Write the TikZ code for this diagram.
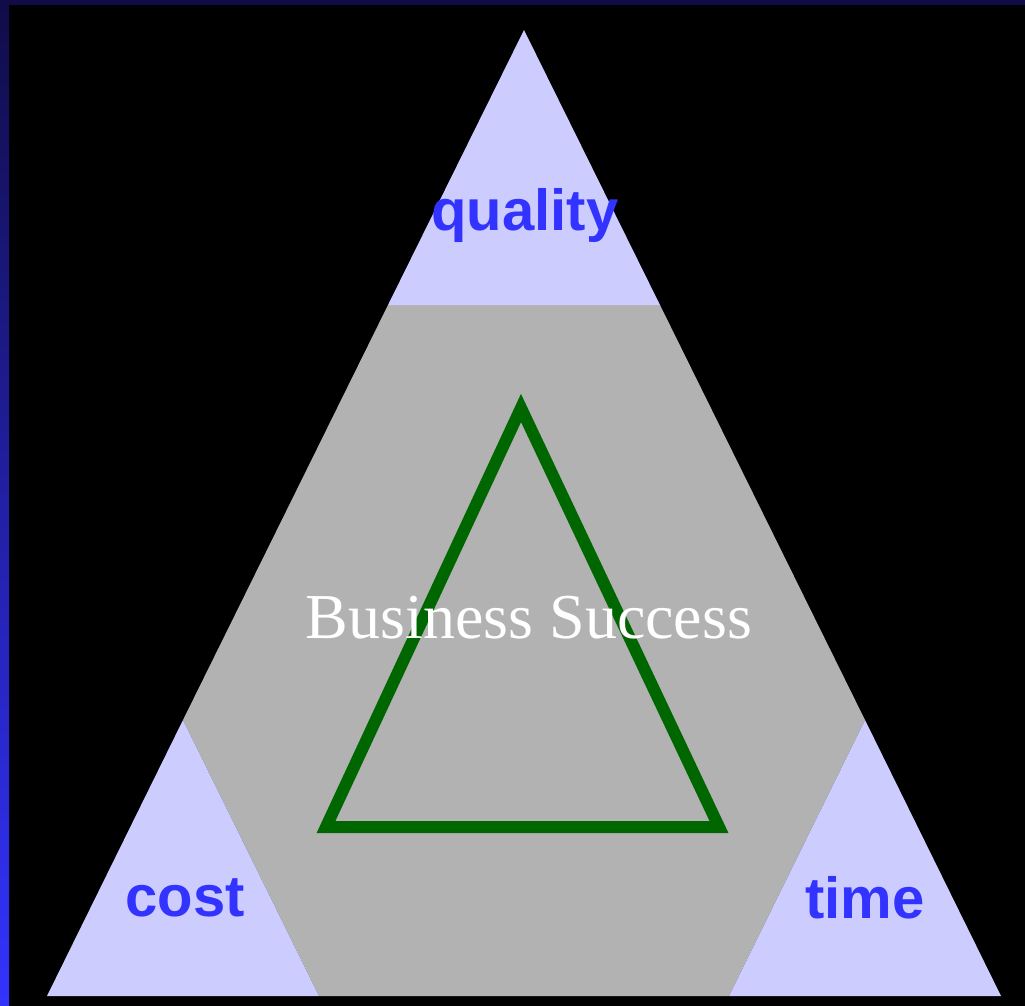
\documentclass[tikz,border=0pt]{standalone}
\usepackage{fontspec}
\setmainfont{Liberation Serif}
\setsansfont{Liberation Sans}
\begin{document}
\begin{tikzpicture}[x=1pt, y=-1pt]
    % Define custom colors
    \definecolor{framenavy}{RGB}{16,12,72}
    \definecolor{framblue}{RGB}{51,51,255}
    \definecolor{cornerlav}{RGB}{204,204,255}
    \definecolor{coregrey}{RGB}{178,178,178}
    \definecolor{labelblue}{RGB}{51,51,255}
    \definecolor{darkgreen}{RGB}{0,102,0}

    % Background and frame
    \fill[black] (0,0) rectangle (1025,1006);
    \useasboundingbox (0,0) rectangle (1025,1006);
    \fill[framenavy] (0,0) rectangle (1025,5);
    \shade[top color=framenavy, bottom color=framblue] (0,0) rectangle (9,1006);

    % Grey core (hexagon)
    \fill[coregrey] (388,305) -- (660,305) -- (865,720) -- (729,996)
        -- (319,996) -- (183,720) -- cycle;

    % Corner triangles
    \fill[cornerlav] (524,30) -- (660,305) -- (388,305) -- cycle;
    \fill[cornerlav] (183,720) -- (319,996) -- (47,996) -- cycle;
    \fill[cornerlav] (865,720) -- (1001,996) -- (729,996) -- cycle;

    % Corner labels
    \node[font=\fontsize{58}{62}\selectfont\sffamily\bfseries, text=labelblue] (quality) at (525,216) {quality};
    \node[font=\fontsize{58}{62}\selectfont\sffamily\bfseries, text=labelblue] (cost) at (185,898) {cost};
    \node[font=\fontsize{58}{62}\selectfont\sffamily\bfseries, text=labelblue] (time) at (865,898) {time};

    % Inner triangle
    \draw[darkgreen, line width=12pt, line join=miter] (521,408) -- (719,827) -- (326,827) -- cycle;

    % Centre label
    \node[font=\fontsize{64}{70}\selectfont, text=white] (success) at (529,618) {Business Success};
\end{tikzpicture}
\end{document}
